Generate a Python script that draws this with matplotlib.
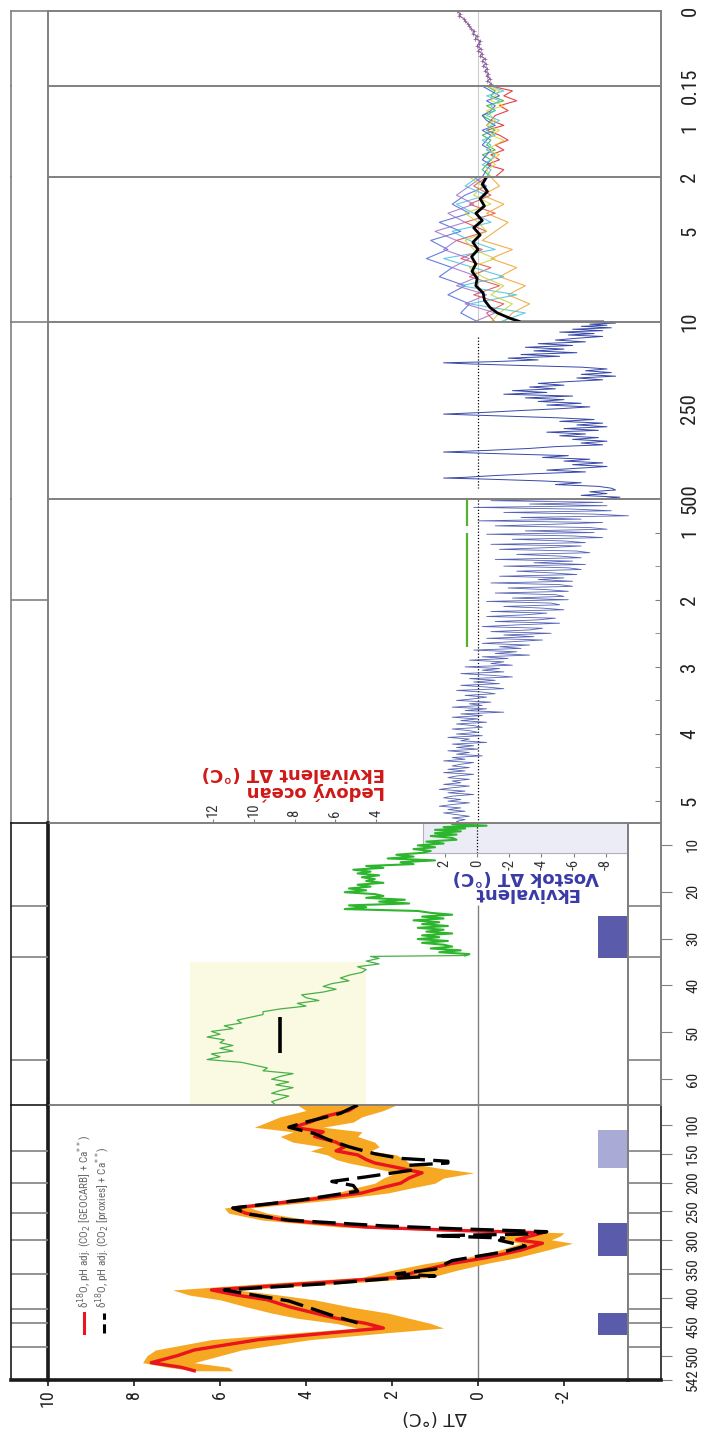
import numpy as np
import matplotlib.pyplot as plt
from matplotlib import font_manager
from matplotlib.transforms import blended_transform_factory

# ---------------- data ----------------
# 542 - 65.5 Ma : d18O reconstruction (red), band, proxies (black dashed)
ma_p = [65.5, 75, 86, 95, 104, 112, 120, 130, 138, 145,
        152, 160, 166, 175, 183, 192, 201, 210, 218, 230,
        244, 253, 265, 277, 283, 287, 293, 299, 305, 317,
        330, 340, 352, 364, 375, 386, 395, 403, 415, 426,
        435, 444, 452, 460, 472, 490, 500, 512, 520, 526]
red_dt = [2.8, 3.0, 3.6, 3.9, 4.3, 3.6, 3.8, 3.3, 3.1, 3.3,
          2.8, 2.6, 2.4, 1.8, 1.3, 1.6, 1.8, 2.3, 2.7, 4.0,
          5.7, 5.4, 4.5, 2.6, 0.4, -1.5, -1.2, -0.9, -1.5, -1.0,
          -0.2, 0.6, 1.3, 1.9, 4.0, 6.2, 5.6, 4.9, 4.4, 3.8,
          3.3, 2.6, 2.2, 3.4, 5.1, 6.6, 7.0, 7.6, 6.9, 6.6]
band_hi = [4.2, 4.0, 4.6, 4.9, 5.2, 4.3, 4.6, 4.3, 3.6, 3.9,
           3.5, 3.3, 3.0, 2.4, 1.9, 2.2, 2.4, 2.9, 3.3, 4.5,
           5.9, 5.8, 5.0, 3.2, 1.0, -0.9, -0.6, -0.5, -1.0, -0.5,
           0.3, 1.2, 2.0, 2.7, 5.0, 7.1, 6.7, 6.0, 5.4, 4.8,
           4.2, 3.3, 2.8, 4.2, 6.2, 7.5, 7.7, 7.8, 7.2, 6.6]
band_lo = [1.9, 2.2, 2.7, 2.9, 3.6, 2.7, 2.8, 2.4, 2.3, 2.5,
           1.9, 1.7, 1.6, 0.9, 0.1, 0.8, 1.0, 1.6, 2.1, 3.4,
           5.3, 4.9, 3.9, 1.9, -0.4, -2.0, -1.9, -1.7, -2.2, -1.6,
           -0.9, -0.2, 0.5, 1.1, 3.2, 5.6, 4.6, 3.8, 3.0, 2.1,
           1.6, 1.1, 0.8, 2.1, 3.9, 5.5, 6.0, 6.6, 5.8, 5.7]
ma_b = [65.5, 80, 95, 104, 115, 125, 138, 150, 158, 163,
        166, 170, 178, 190, 198, 205, 215, 230, 244, 255,
        265, 275, 280, 285, 289, 292, 296, 300, 310, 320,
        335, 350, 358, 362, 366, 375, 386, 395, 405, 420,
        430, 443]
black_dt = [2.8, 3.2, 4.0, 4.4, 3.8, 3.5, 3.0, 2.4, 1.8, 0.7,
            0.7, 1.6, 1.5, 2.6, 3.4, 2.9, 2.8, 4.1, 5.7, 5.3,
            4.4, 2.2, 0.5, -1.6, -1.2, 1.0, -0.6, -0.5, -1.1, -0.6,
            0.6, 1.0, 1.9, 1.0, 2.0, 3.5, 5.9, 5.2, 4.4, 3.8,
            3.4, 2.8]

# 65.5 - 5.33 Ma : Zachos curve (green)
zac_ma = [5.33, 5.6, 5.9, 6.2, 6.5, 6.8, 7.1, 7.5, 7.8, 8.1,
          8.5, 8.9, 9.3, 9.7, 10.1, 10.5, 10.9, 11.3, 11.7, 12.1,
          12.5, 12.9, 13.3, 13.7, 14.1, 14.5, 14.9, 15.3, 15.7, 16.1,
          16.5, 16.9, 17.3, 17.7, 18.1, 18.5, 18.9, 19.3, 19.7, 20.1,
          20.5, 20.9, 21.3, 21.7, 22.1, 22.5, 22.9, 23.3, 23.7, 24.1,
          24.5, 24.9, 25.3, 25.7, 26.1, 26.5, 26.9, 27.3, 27.7, 28.1,
          28.5, 28.9, 29.3, 29.7, 30.1, 30.5, 30.9, 31.3, 31.7, 32.1,
          32.5, 32.9, 33.3, 33.6]
zac_dt = [0.1, 0.6, -0.2, 0.8, 0.3, 1.0, 0.4, 1.0, 0.5, 1.1,
          0.6, 0.5, 1.2, 0.8, 1.4, 1.0, 1.5, 1.1, 1.3, 1.9,
          1.5, 2.1, 1.0, 1.8, 1.5, 2.6, 2.2, 2.9, 2.5, 2.8,
          2.3, 2.7, 2.4, 2.6, 2.2, 2.8, 2.5, 3.0, 2.6, 3.1,
          2.4, 2.2, 2.6, 1.7, 2.3, 1.6, 3.0, 2.6, 3.1, 1.4,
          1.1, 0.6, 1.3, 0.8, 1.5, 0.9, 1.3, 0.7, 1.4, 0.8,
          1.2, 0.6, 1.3, 0.9, 1.4, 0.7, 1.3, 0.8, 0.6, 1.1,
          0.4, 0.9, 0.2, 0.3]
zac_old_ma = [33.6, 33.8, 34.2, 34.8, 35.4, 36.0, 36.6, 37.2, 37.8, 38.4,
              39.0, 39.6, 40.2, 40.8, 41.4, 42.0, 42.6, 43.2, 43.8, 44.4,
              45.0, 45.6, 46.2, 46.8, 47.4, 48.0, 48.6, 49.2, 49.8, 50.4,
              51.0, 51.6, 52.2, 52.8, 53.4, 54.0, 54.6, 55.2, 55.8, 56.4,
              57.0, 57.6, 58.2, 58.8, 59.4, 60.0, 60.6, 61.2, 61.8, 62.4,
              63.0, 63.6, 64.2, 64.8, 65.5]
zac_old_dt = [0.3, 2.5, 2.3, 2.6, 2.3, 2.8, 2.6, 2.7, 3.0, 3.2,
              3.0, 3.4, 3.6, 3.3, 3.6, 4.1, 4.0, 3.7, 4.2, 4.0,
              4.6, 5.0, 5.0, 5.3, 5.6, 5.5, 5.9, 5.7, 6.2, 6.0,
              6.3, 5.9, 6.0, 5.7, 6.0, 5.7, 6.2, 6.0, 6.3, 5.5,
              5.2, 4.9, 5.0, 4.3, 4.6, 4.8, 4.4, 4.7, 4.3, 4.6,
              4.8, 4.4, 4.6, 4.8, 4.7]

# 5.33 - 0.5 Ma : benthic stack (blue), one value per 25 kyr from 0.5 Ma
lr_dt = [-2.6, -0.3, -2.9, -1.2, -3.0, 0.1, -2.2, -3.1, -0.6, -2.7,
         -3.5, -1.0, -2.4, 0.0, -2.9, -1.8, -0.4, -2.6, -3.0, -1.1,
         -2.7, -0.2, -2.2, -2.9, -0.8, -2.0, -2.5, -0.3, -2.4, -1.6,
         -0.5, -2.3, -2.6, -0.9, -1.9, -2.4, -0.4, -2.2, -1.3, -2.5,
         -0.6, -2.1, -2.4, -0.9, -1.7, -2.3, -0.5, -2.0, -1.4, -2.2,
         -0.3, -1.9, -2.2, -0.7, -1.6, -2.1, -0.4, -1.8, -2.0, -0.8,
         -2.1, -0.2, -1.7, -1.9, -0.6, -1.5, -2.0, -0.3, -1.6, -1.1,
         -0.2, -1.8, -1.4, -0.4, -1.9, -0.9, -0.1, -1.5, -1.2, -0.3,
         -1.7, -0.6, -1.3, -0.2, -1.5, -0.8, -0.1, -1.2, -0.5, -1.0,
         0.1, -0.9, -0.4, -1.2, -0.1, -0.7, 0.2, -0.6, -0.3, -0.8,
         0.3, -0.5, -0.1, -0.6, 0.4, -0.3, -0.8, 0.2, -0.4, 0.1,
         -0.5, 0.4, -0.2, -0.6, 0.5, -0.1, -0.4, 0.3, -0.2, 0.1,
         0.5, -0.3, 0.2, -0.1, 0.6, -0.2, 0.3, -0.6, 0.4, -0.1,
         0.6, 0.0, 0.4, -0.2, 0.5, 0.1, -0.1, 0.6, 0.2, 0.0,
         0.5, -0.1, 0.7, 0.2, 0.4, -0.2, 0.6, 0.1, 0.5, 0.0,
         0.7, 0.2, 0.5, -0.1, 0.6, 0.3, 0.8, 0.1, 0.4, 0.6,
         0.2, 0.7, 0.3, 0.8, 0.1, 0.5, 0.7, 0.2, 0.6, 0.4,
         0.8, 0.2, 0.6, 0.9, 0.3, 0.7, 0.1, 0.6, 0.8, 0.4,
         0.7, 0.2, 0.6, 0.9, 0.4, 0.7, 0.3, 0.8, 0.5, 0.2,
         0.6, 0.3, 0.5, 0.4]
lr_ma = np.linspace(0.5, 5.33, len(lr_dt))

# 500 - 10 ka : Vostok (blue)
vostok_ka = [10, 13, 16, 19, 22, 26, 30, 34, 38, 42,
             46, 50, 55, 60, 65, 70, 75, 80, 85, 90,
             95, 100, 105, 110, 115, 120, 123, 126, 130, 135,
             140, 145, 150, 155, 160, 165, 170, 175, 180, 185,
             190, 195, 200, 205, 210, 215, 220, 225, 230, 235,
             240, 245, 250, 255, 260, 265, 270, 275, 280, 285,
             290, 295, 300, 305, 310, 315, 320, 325, 330, 335,
             340, 345, 350, 355, 360, 365, 370, 375, 380, 385,
             390, 395, 400, 405, 410, 415, 420, 425, 430, 435,
             440, 442, 445, 450, 455, 460, 465, 470, 475, 480,
             485, 490, 495, 500]
vostok_dt = [-3.1, -3.2, -2.6, -3.0, -2.4, -3.1, -2.2, -2.9, -1.9, -2.7,
             -2.1, -2.9, -2.3, -1.8, -2.5, -1.4, -2.2, -1.1, -2.0, -1.3,
             -2.3, -1.0, -1.9, -0.7, -1.4, -0.3, 0.8, 0.2, -0.9, -2.4,
             -3.0, -2.5, -3.1, -2.4, -3.2, -2.3, -2.9, -2.1, -1.4, -2.0,
             -1.2, -1.8, -0.8, -1.6, -0.6, -2.2, -1.1, -2.0, -1.4, -2.4,
             -1.6, -2.6, -1.9, -1.0, -0.2, 0.8, -0.5, -1.8, -2.7, -1.9,
             -2.9, -2.3, -3.0, -2.0, -2.8, -1.6, -2.5, -1.9, -2.8, -2.2,
             -3.0, -2.4, -2.9, -1.8, -1.2, -0.3, 0.8, -0.6, -2.1, -1.5,
             -2.6, -2.0, -2.9, -2.2, -3.0, -2.3, -1.6, -2.5, -1.3, -0.4,
             0.3, 0.8, -0.2, -1.5, -2.4, -1.8, -2.8, -3.1, -3.2, -2.6,
             -3.0, -2.4, -3.3, -2.8]

# 10 - 2 ka : Holocene reconstructions and their mean
holo_ka = [2.0, 2.5, 3.0, 3.5, 4.0, 4.5, 5.0, 5.5, 6.0, 6.5,
           7.0, 7.5, 8.0, 8.5, 9.0, 9.5, 10.0]
holo_series = {
    '#4a6ad8': [0.1, -0.2, 0.3, 0.6, 0.2, 0.9, 0.4, 1.1, 0.7, 1.2, 0.6, 0.9, 0.3, 0.7, 0.2, 0.4, 0.0],
    '#e04848': [-0.2, 0.1, -0.3, 0.2, -0.4, 0.3, -0.2, 0.5, -0.1, 0.4, -0.3, 0.2, -0.5, 0.1, -0.6, -0.2, -0.4],
    '#f0a030': [-0.3, -0.5, -0.1, -0.6, -0.2, -0.7, -0.4, -0.1, -0.8, -0.3, -0.9, -0.5, -1.1, -0.7, -1.2, -0.8, -0.6],
    '#48c0e0': [0.0, 0.3, -0.2, 0.5, 0.1, -0.3, 0.6, 0.2, -0.4, 0.8, 0.1, -0.6, 0.4, -0.9, 0.2, -1.1, -0.5],
    '#a070c8': [-0.1, 0.2, 0.5, 0.1, 0.7, 0.3, 1.0, 0.5, 0.8, 0.2, 0.6, 0.0, 0.5, -0.2, 0.3, -0.4, 0.1],
    '#c8d040': [0.2, -0.1, 0.1, -0.3, 0.3, 0.0, -0.2, 0.3, 0.1, -0.4, 0.2, -0.1, -0.6, -0.3, -0.8, -0.5, -0.3],
}
mean_ka = [2.0, 2.4, 2.8, 3.2, 3.6, 4.0, 4.4, 4.8, 5.2, 5.6,
           6.0, 6.4, 6.8, 7.2, 7.6, 8.0, 8.4, 8.8, 9.2, 9.5,
           9.8, 10.0, 10.0]
mean_dt = [-0.2, -0.1, -0.22, -0.05, -0.15, 0.05, -0.1, 0.1, -0.05, 0.12,
           0.0, 0.15, 0.05, 0.14, 0.02, 0.05, -0.12, -0.15, -0.28, -0.45,
           -0.75, -1.0, -2.9]

# 2 - 0.15 ka : last two millennia reconstructions
recent_ka = [0.15, 0.25, 0.35, 0.45, 0.55, 0.65, 0.75, 0.85, 0.95, 1.05,
             1.15, 1.25, 1.35, 1.45, 1.55, 1.65, 1.75, 1.85, 2.0]
recent_series = {
    '#e03030': [-0.3, -0.8, -0.6, -0.9, -0.5, -0.7, -0.4, -0.3, -0.6, -0.2, -0.5, -0.7, -0.4, -0.6, -0.3, -0.5, -0.2, -0.6, -0.4],
    '#40b040': [-0.2, -0.4, -0.3, -0.6, -0.2, -0.4, -0.1, -0.3, -0.2, -0.4, -0.1, -0.3, -0.2, -0.4, -0.1, -0.3, -0.2, -0.1, -0.3],
    '#4060d0': [-0.1, -0.3, -0.5, -0.2, -0.4, -0.3, -0.1, -0.2, -0.4, -0.1, -0.3, -0.2, -0.1, -0.3, -0.2, -0.1, -0.3, -0.2, -0.1],
    '#e8d040': [-0.2, -0.5, -0.4, -0.3, -0.6, -0.2, -0.3, -0.4, -0.2, -0.5, -0.3, -0.6, -0.4, -0.2, -0.5, -0.3, -0.4, -0.2, -0.3],
    '#50c8d8': [-0.3, -0.6, -0.2, -0.5, -0.3, -0.4, -0.2, -0.5, -0.3, -0.2, -0.4, -0.1, -0.3, -0.2, -0.4, -0.3, -0.1, -0.3, -0.2],
}

# 0.15 - 0 ka : instrumental record
inst_dt = [0.5, 0.42, 0.44, 0.33, 0.3, 0.24, 0.2, 0.16, 0.1, 0.12,
           0.03, 0.06, -0.05, -0.02, 0.02, -0.06, 0.0, -0.1, -0.05, -0.16,
           -0.1, -0.18, -0.12, -0.22, -0.16, -0.24, -0.2, -0.28, -0.22, -0.3,
           -0.26]
inst_ka = np.linspace(0, 0.15, len(inst_dt))

# glaciation bars (Ma)
bars_s1_start = [108.8, 270, 426]
bars_s1_end = [174.6, 328, 464]
bars_s1_dark = [False, True, True]
bars_s2_start = [25.1]
bars_s2_end = [34.1]

# ice-free ocean marker in the 5.33 - 0.5 Ma panel
ice_start = [0.5, 1.0]
ice_end = [0.9, 2.7]

period_bounds = [145, 201.3, 252.2, 298.9, 358.9, 419.2, 443.8, 485.4]
epoch_bounds = [23.03, 33.9, 55.8]
plio_bounds = [2.0]

ticks_s1 = [100, 150, 200, 250, 300, 350, 400, 450, 500, 542]
ticks_s2 = [10, 20, 30, 40, 50, 60]
ticks_s3 = [1, 2, 3, 4, 5]
ticks_s4 = [10, 250, 500]
ticks_s5 = [2, 5]
ticks_s6 = [0.15, 1]
ticks_s7 = [0]
dt_ticks = [10, 8, 6, 4, 2, 0, -2]
vostok_ticks = [2, 0, -2, -4, -6, -8]
ice_ticks = [12, 10, 8, 6, 4]

legend_red = r'δ$^{18}$O, pH adj. (CO$_2$ [GEOCARB] + Ca$^{**}$)'
legend_blk = r'δ$^{18}$O, pH adj. (CO$_2$ [proxies] + Ca$^{**}$)'

# ---------------- fonts ----------------
names = {f.name for f in font_manager.fontManager.ttflist}
NARROW = next((n for n in ['Liberation Sans Narrow', 'Roboto Condensed', 'Noto Sans Condensed',
                           'DejaVu Sans Condensed', 'Open Sans Condensed'] if n in names),
              'Liberation Sans')
NF = [NARROW, 'DejaVu Sans']
WF = ['DejaVu Sans']

# ---------------- layout (pixels) ----------------
W, H = 710, 1429
PX_C = 43.0   # pixels per degree


def rect(x0, y0, x1, y1):
    return [x0 / W, 1 - y1 / H, (x1 - x0) / W, (y1 - y0) / H]


SEGS = [(11, 86, 0, 0.15), (86, 177, 0.15, 2), (177, 322, 2, 10), (322, 499, 10, 500),
        (499, 823, 0.5, 5.33), (823, 1105, 5.33, 65.5), (1105, 1380, 65.5, 542)]
GRAY, DARK = '#808080', '#1a1a1a'
ORANGE, RED, BLUE, GREEN = '#f7a823', '#e8141e', '#3848a8', '#2eb52e'

fig = plt.figure(figsize=(W / 100, H / 100), dpi=100)
fig.patch.set_facecolor('white')

axs, rstrips = [], {}
for i, (y0, y1, t0, t1) in enumerate(SEGS):
    low = i >= 5
    xr = 628 if low else 661
    ax = fig.add_axes(rect(48, y0, xr, y1))
    ax.set_xlim(10, 10 - (xr - 48) / PX_C)
    ax.set_ylim(t1, t0)
    ax.patch.set_visible(False)
    ax.set_xticks([])
    ax.set_yticks([])
    for s in ax.spines.values():
        s.set_color(GRAY)
        s.set_linewidth(1.4)
    ax.spines['bottom'].set_visible(i == 6)
    if low:
        ax.spines['left'].set_color(DARK)
        ax.spines['left'].set_linewidth(2.6)
    if i == 6:
        ax.spines['bottom'].set_color(DARK)
        ax.spines['bottom'].set_linewidth(2.6)
    axs.append(ax)

    # left strip
    sl = fig.add_axes(rect(11, y0, 48, y1))
    sl.set_ylim(t1, t0)
    sl.set_xlim(0, 1)
    sl.set_xticks([])
    sl.set_yticks([])
    sl.patch.set_visible(False)
    for s in sl.spines.values():
        s.set_color(DARK if low else GRAY)
        s.set_linewidth(1.2)
    sl.spines['right'].set_visible(False)
    sl.spines['top'].set_visible(i in (0, 3, 5, 6))
    sl.spines['bottom'].set_visible(i == 6)
    if i == 6:
        sl.spines['bottom'].set_linewidth(2.6)
    bl = {4: plio_bounds, 5: epoch_bounds, 6: period_bounds}.get(i, [])
    for b in bl:
        sl.axhline(b, color=GRAY, lw=1.2)

    if low:
        sr = fig.add_axes(rect(628, y0, 661, y1))
        sr.set_ylim(t1, t0)
        sr.set_xlim(0, 1)
        sr.set_xticks([])
        sr.patch.set_visible(False)
        for s in sr.spines.values():
            s.set_color(GRAY)
            s.set_linewidth(1.4)
        sr.spines['bottom'].set_visible(i == 6)
        if i == 6:
            sr.spines['bottom'].set_color(DARK)
            sr.spines['bottom'].set_linewidth(2.6)
            sr.spines['right'].set_color('#404040')
        for b in (epoch_bounds if i == 5 else period_bounds):
            sr.axhline(b, color=GRAY, lw=1.2)
        rstrips[i] = sr

# ---- right side time labels ----
for i, tk in [(0, ticks_s7), (1, ticks_s6), (2, ticks_s5), (3, ticks_s4), (4, ticks_s3)]:
    ax = axs[i]
    ax.yaxis.tick_right()
    ax.set_yticks(tk, ['%g' % t for t in tk], rotation=90, fontsize=15, family=NF, va='center')
    ax.tick_params(axis='y', length=0, pad=14, labelcolor='#222222')
axs[4].set_yticks([1.5, 2.5, 3.5, 4.5], minor=True)
axs[4].tick_params(axis='y', which='both', direction='in', length=4, color=GRAY)

for i, tk in [(5, ticks_s2), (6, ticks_s1)]:
    sr = rstrips[i]
    sr.yaxis.tick_right()
    sr.set_yticks(tk, ['%g' % t for t in tk], rotation=90, fontsize=11, family=NF, va='center')
    sr.tick_params(axis='y', direction='out', length=8, color=GRAY, pad=10, labelcolor='#222222')

# ---- 0.15 - 0 ka ----
ax = axs[0]
ax.axvline(0, color='#cccccc', lw=0.8, zorder=0)
ax.plot(inst_dt, inst_ka, color='#8c5f9c', lw=0.8, marker='+', ms=2.5, mew=0.5)

# ---- 2 - 0.15 ka ----
ax = axs[1]
ax.axvline(0, color='#cccccc', lw=0.8, zorder=0)
for col, vals in recent_series.items():
    ax.plot(vals, recent_ka, color=col, lw=0.8, alpha=0.9)

# ---- 10 - 2 ka ----
ax = axs[2]
ax.axvline(0, color='#cccccc', lw=0.8, zorder=0)
for col, vals in holo_series.items():
    ax.plot(vals, holo_ka, color=col, lw=0.8, alpha=0.85)
ax.plot(mean_dt, mean_ka, color='black', lw=2.0)

# ---- 500 - 10 ka ----
ax = axs[3]
ax.vlines(0, 51, 470, colors='black', linestyles=(0, (1, 1.5)), lw=0.9)
ax.plot(vostok_dt, vostok_ka, color=BLUE, lw=0.7)

# ---- 5.33 - 0.5 Ma ----
ax = axs[4]
ax.axvline(0, color='black', ls=(0, (1, 1.5)), lw=0.9)
ax.vlines([0.25] * len(ice_start), ice_start, ice_end, colors='#58b030', lw=1.6)
ax.plot(lr_dt, lr_ma, color=BLUE, lw=0.6, alpha=0.85)

# ---- 65.5 - 5.33 Ma ----
ax = axs[5]
xr = ax.get_xlim()[1]
ax.fill_betweenx([35, 65.5], 6.7, 2.6, color='#fafae3', lw=0, zorder=0)
ax.vlines(0, 22.8, 65.5, colors=GRAY, lw=1.0)
ax.plot(zac_dt, zac_ma, color=GREEN, lw=1.5)
ax.plot(zac_old_dt, zac_old_ma, color='#48b048', lw=0.9)
ax.vlines(4.6, 46.7, 54.4, colors='black', lw=2.6)
for s, e in zip(bars_s2_start, bars_s2_end):
    ax.fill_betweenx([s, e], -2.79, xr, color='#5b5bab', lw=0)

# Vostok equivalent inset scale
axv = fig.add_axes(rect(423, 823, 628, 853), zorder=-1)
axv.set_facecolor('#ececf6')
axv.set_xlim((477 - 423) / 16.1, (477 - 628) / 16.1)
axv.set_ylim(0, 1)
axv.set_yticks([])
axv.set_xticks(vostok_ticks, ['%g' % t for t in vostok_ticks], rotation=90,
               fontsize=10.5, family=NF)
axv.tick_params(axis='x', direction='out', length=3, pad=1.5, color=GRAY, labelcolor='#333333')
axv.spines['top'].set_visible(False)
axv.spines['right'].set_visible(False)
for s in ('left', 'bottom'):
    axv.spines[s].set_color('#b0b0c0')
axv.axvline(0, color='black', ls=(0, (1, 1.5)), lw=0.9)
axv.text(0.5, -1.07, 'Ekvivalent\nVostok ΔT (°C)', transform=axv.transAxes, rotation=180,
         ha='center', va='center', multialignment='center', linespacing=0.9,
         color='#3a3aa8', fontweight='bold', fontsize=13, family=WF)

# ice-free ocean equivalent scale
sec = ax.secondary_xaxis('top', functions=(lambda m: 2.108 * m - 0.99,
                                           lambda v: (v + 0.99) / 2.108))
sec.set_xticks(ice_ticks)
sec.set_xticklabels(['%g' % t for t in ice_ticks], rotation=90, fontsize=10.5, family=NF)
sec.tick_params(axis='x', direction='out', length=3, pad=1.5, color=GRAY, labelcolor='#333333')
sec.spines['top'].set_visible(False)
ax.text(2.16, 1.145, 'Ledový oceán\nEkvivalent ΔT (°C)',
        transform=blended_transform_factory(ax.transData, ax.transAxes),
        rotation=180, ha='right', va='center', multialignment='left', linespacing=0.95,
        color='#d01818', fontweight='bold', fontsize=13, family=WF)

# ---- 542 - 65.5 Ma ----
ax = axs[6]
xr = ax.get_xlim()[1]
ax.axvline(0, color=GRAY, lw=1.0, zorder=0)
ax.fill_betweenx(ma_p, band_lo, band_hi, color=ORANGE, lw=0, zorder=1)
ax.plot(red_dt, ma_p, color=RED, lw=2.4, zorder=2)
ax.plot(black_dt, ma_b, color='black', lw=2.4, dashes=(7, 2.5), zorder=3)
for s, e, d in zip(bars_s1_start, bars_s1_end, bars_s1_dark):
    ax.fill_betweenx([s, e], -2.79, xr, color='#5b5bab' if d else '#aaaad6', lw=0)

tr = ax.transAxes
ax.plot([0.062, 0.062], [0.171, 0.244], transform=tr, color=RED, lw=2.2)
ax.plot([0.0966, 0.0966], [0.171, 0.244], transform=tr, color='black', lw=2.2, dashes=(3, 1.5))
ax.text(0.064, 0.262, legend_red, transform=tr, rotation=90, ha='center', va='bottom',
        fontsize=8, family=NF, color='#666666')
ax.text(0.094, 0.262, legend_blk, transform=tr, rotation=90, ha='center', va='bottom',
        fontsize=8, family=NF, color='#666666')

ax.set_xticks(dt_ticks, [str(t) for t in dt_ticks], rotation=90, fontsize=13, family=NF)
ax.tick_params(axis='x', direction='out', length=4, width=1.2, pad=3, color=DARK, labelcolor='#222222')
ax.set_xlabel('ΔT (°C)', rotation=180, fontsize=13, family=WF, color='#222222')
ax.xaxis.set_label_coords((435 - 48) / 580, -(1417 - 1380) / 275)
ax.xaxis.label.set_va('center')

fig.savefig('out.png', dpi=100, facecolor='white')
